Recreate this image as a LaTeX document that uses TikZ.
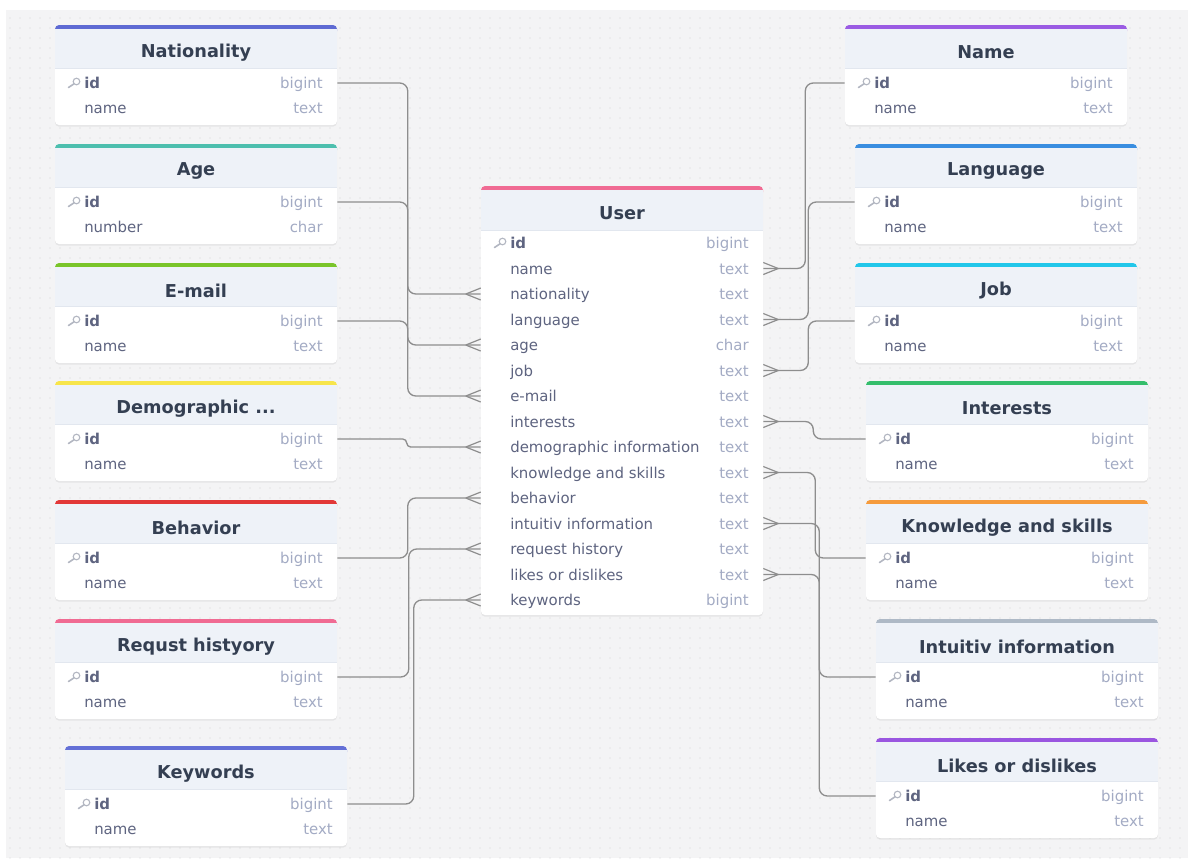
\documentclass[tikz,border=0pt]{standalone}
\usepackage{fontspec}
\setmainfont{DejaVu Sans}
\usetikzlibrary{calc,patterns.meta,shadows}
\definecolor{bgc}{HTML}{F4F4F5}
\definecolor{dotc}{HTML}{D2D2D6}
\definecolor{headbg}{HTML}{EEF2F8}
\definecolor{headln}{HTML}{E2E7EF}
\definecolor{titlec}{HTML}{343F52}
\definecolor{fnamec}{HTML}{5E6480}
\definecolor{ftypec}{HTML}{A3ABC4}
\definecolor{keyc}{HTML}{B3B7C2}
\definecolor{connc}{HTML}{8E8E8E}
\definecolor{cUser}{HTML}{F06B93}
\definecolor{cNat}{HTML}{5F6BD3}
\definecolor{cAge}{HTML}{4DBFAE}
\definecolor{cMail}{HTML}{7AC52A}
\definecolor{cDemo}{HTML}{F7E54B}
\definecolor{cBeh}{HTML}{E23838}
\definecolor{cReq}{HTML}{F06B93}
\definecolor{cKw}{HTML}{6470D6}
\definecolor{cName}{HTML}{9B5CE3}
\definecolor{cLang}{HTML}{3A8EE0}
\definecolor{cJob}{HTML}{22C7EA}
\definecolor{cInt}{HTML}{34BE6C}
\definecolor{cKnow}{HTML}{F59B3D}
\definecolor{cIntu}{HTML}{AEB9C6}
\definecolor{cLike}{HTML}{9A56E0}
\tikzset{
  tbltitle/.style={font=\fontsize{13.3}{16}\selectfont\bfseries, text=titlec, inner sep=0pt, yshift=-1.8pt},
  fname/.style={font=\fontsize{11.2}{13}\selectfont, text=fnamec, inner sep=0pt, text height=1.6ex, text depth=0.45ex, yshift=-1.3pt},
  ftype/.style={font=\fontsize{11.2}{13}\selectfont, text=ftypec, inner sep=0pt, text height=1.6ex, text depth=0.45ex, yshift=-1.3pt},
  rowbox/.style={minimum width=211.5pt, minimum height=15pt, inner sep=0pt, draw=none},
  tblbody/.style={fill=white, rounded corners=3pt, drop shadow={opacity=0.13, shadow xshift=0pt, shadow yshift=-1.2pt}},
  conn/.style={draw=connc, line width=1pt, rounded corners=6pt},
  crowline/.style={draw=connc, line width=0.9pt},
}
\newcommand\keyicon[2]{%
  \draw[keyc, line width=0.85pt] (#1+2.5,#2-1.5) circle[radius=3.3];
  \draw[keyc, line width=1.2pt, line cap=round] (#1,#2+0.8) -- (#1-5.5,#2+4.5);
}
% #1 key, #2 x, #3 y, #4 title, #5 color, #6 second field, #7 id type, #8 second type
\newcommand\dbtable[8]{%
  \begin{scope}[shift={(#2,#3)}]
    \path[tblbody] (0,0) rectangle (282,100);
    \fill[#5, rounded corners=3pt] (0,0) rectangle (282,10);
    \fill[headbg] (0,4) rectangle (282,43);
    \draw[headln, line width=0.6pt] (0,43) -- (282,43);
    \node[tbltitle] (#1-title) at (141,25) {#4};
    \node[rowbox] (#1-id) at (141,58) {};
    \node[rowbox] (#1-n) at (141,83) {};
    \keyicon{19}{58}
    \node[fname, font=\fontsize{11.2}{13}\selectfont\bfseries, anchor=west] (#1-idl) at (29,58) {id};
    \node[ftype, anchor=east] (#1-idt) at (268,58) {#7};
    \node[fname, anchor=west] (#1-nl) at (29,83) {#6};
    \node[ftype, anchor=east] (#1-nt) at (268,83) {#8};
  \end{scope}}
\newcommand\crowL[1]{%
  \draw[crowline] ($(#1.west)+(-15,0)$) -- ($(#1.west)+(0,-6)$)
                  ($(#1.west)+(-15,0)$) -- ($(#1.west)+(0,6)$);}
\newcommand\crowR[1]{%
  \draw[crowline] ($(#1.east)+(15,0)$) -- ($(#1.east)+(0,-6)$)
                  ($(#1.east)+(15,0)$) -- ($(#1.east)+(0,6)$);}
\begin{document}
\begin{tikzpicture}[x=0.75pt, y=-0.75pt]
\useasboundingbox (0,0) rectangle (1188,858);
\fill[white] (0,0) rectangle (1188,858);
\fill[bgc] (6,10) rectangle (1188,858);
\fill[pattern={Dots[distance=7.5pt, radius=0.5pt]}, pattern color=dotc] (6,10) rectangle (1188,858);

% left tables
\dbtable{nat}{55}{25}{Nationality}{cNat}{name}{bigint}{text}
\dbtable{age}{55}{144}{Age}{cAge}{number}{bigint}{char}
\dbtable{mail}{55}{263}{E-mail}{cMail}{name}{bigint}{text}
\dbtable{demo}{55}{381}{Demographic ...}{cDemo}{name}{bigint}{text}
\dbtable{beh}{55}{500}{Behavior}{cBeh}{name}{bigint}{text}
\dbtable{req}{55}{619}{Requst histyory}{cReq}{name}{bigint}{text}
\dbtable{kw}{65}{746}{Keywords}{cKw}{name}{bigint}{text}
% right tables
\dbtable{nm}{845}{25}{Name}{cName}{name}{bigint}{text}
\dbtable{lang}{855}{144}{Language}{cLang}{name}{bigint}{text}
\dbtable{job}{855}{263}{Job}{cJob}{name}{bigint}{text}
\dbtable{int}{866}{381}{Interests}{cInt}{name}{bigint}{text}
\dbtable{know}{866}{500}{Knowledge and skills}{cKnow}{name}{bigint}{text}
\dbtable{intu}{876}{619}{Intuitiv information}{cIntu}{name}{bigint}{text}
\dbtable{like}{876}{738}{Likes or dislikes}{cLike}{name}{bigint}{text}

% User table
\begin{scope}[shift={(481,186)}]
  \path[tblbody] (0,0) rectangle (282,429);
  \fill[cUser, rounded corners=3pt] (0,0) rectangle (282,10);
  \fill[headbg] (0,4) rectangle (282,44);
  \draw[headln, line width=0.6pt] (0,44) -- (282,44);
  \node[tbltitle] (user-title) at (141,25) {User};
  \node[rowbox] (u0) at (141,57) {};
  \keyicon{19}{57}
  \node[fname, font=\fontsize{11.2}{13}\selectfont\bfseries, anchor=west] (u0l) at (29,57) {id};
  \node[ftype, anchor=east] (u0t) at (268,57) {bigint};
  \foreach \f/\t [count=\i] in {name/text, nationality/text, language/text, age/char, job/text, e-mail/text, interests/text, demographic information/text, knowledge and skills/text, behavior/text, intuitiv information/text, request history/text, likes or dislikes/text, keywords/bigint}{
    \node[rowbox] (u\i) at (141,57+25.5*\i) {};
    \node[fname, anchor=west] (u\i l) at (29,57+25.5*\i) {\f};
    \node[ftype, anchor=east] (u\i t) at (268,57+25.5*\i) {\t};
  }
\end{scope}

% left connectors
\draw[conn] (nat-id.east) -| ($(u2.west)+(-73,0)$) -- (u2.west);
\draw[conn] (age-id.east) -| ($(u4.west)+(-73,0)$) -- (u4.west);
\draw[conn] (mail-id.east) -| ($(u6.west)+(-73,0)$) -- (u6.west);
\draw[conn, rounded corners=3pt] (demo-id.east) -| ($(u8.west)+(-74,0)$) -- (u8.west);
\draw[conn] (beh-id.east) -| ($(u10.west)+(-73,0)$) -- (u10.west);
\draw[conn] (req-id.east) -| ($(u12.west)+(-72,0)$) -- (u12.west);
\draw[conn] (kw-id.east) -| ($(u14.west)+(-67,0)$) -- (u14.west);
\foreach \u in {u2,u4,u6,u8,u10,u12,u14}{\crowL{\u}}
% right connectors
\draw[conn] (nm-id.west) -| ($(u1.east)+(42,0)$) -- (u1.east);
\draw[conn] (lang-id.west) -| ($(u3.east)+(45,0)$) -- (u3.east);
\draw[conn] (job-id.west) -| ($(u5.east)+(45,0)$) -- (u5.east);
\draw[conn] (int-id.west) -| ($(u7.east)+(50,0)$) -- (u7.east);
\draw[conn] (know-id.west) -| ($(u9.east)+(52,0)$) -- (u9.east);
\draw[conn] (intu-id.west) -| ($(u11.east)+(56,0)$) -- (u11.east);
\draw[conn] (like-id.west) -| ($(u13.east)+(56,0)$) -- (u13.east);
\foreach \u in {u1,u3,u5,u7,u9,u11,u13}{\crowR{\u}}
\end{tikzpicture}
\end{document}
